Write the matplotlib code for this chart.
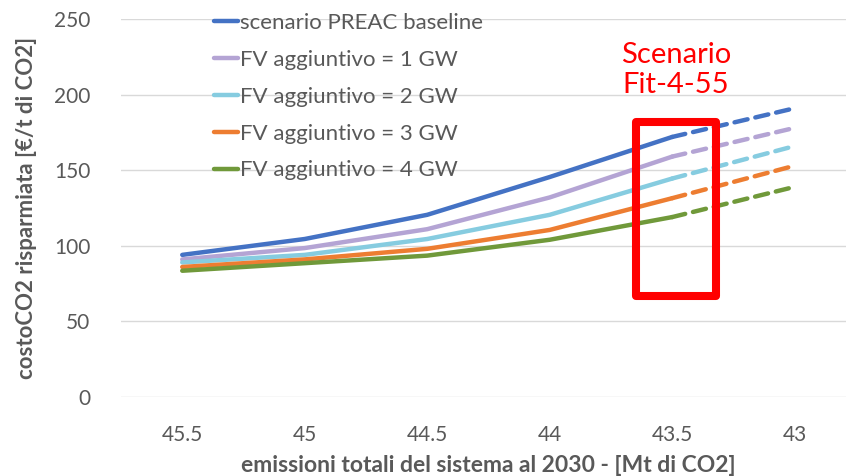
# -*- coding: utf-8 -*-
import numpy as np
import matplotlib
matplotlib.use("Agg")
import matplotlib.pyplot as plt
from matplotlib.patches import Rectangle

plt.rcParams['font.family'] = ['Lato', 'DejaVu Sans']

emissioni = ["45.5", "45", "44.5", "44", "43.5", "43"]
baseline = [94, 104.5, 120.5, 145.5, 172, 191]
fv_1gw = [91, 98.5, 111, 132, 159, 178]
fv_2gw = [89, 94, 104.5, 120.5, 144.5, 166]
fv_3gw = [86, 91, 98, 110.5, 131.5, 153]
fv_4gw = [83.5, 88.5, 93.5, 104, 119, 139]

serie = [
    ("scenario PREAC baseline", baseline, "#4472C4"),
    ("FV aggiuntivo = 1 GW", fv_1gw, "#B4A4D4"),
    ("FV aggiuntivo = 2 GW", fv_2gw, "#86CCE0"),
    ("FV aggiuntivo = 3 GW", fv_3gw, "#ED7D31"),
    ("FV aggiuntivo = 4 GW", fv_4gw, "#70993A"),
]

grigio = "#595959"

fig = plt.figure(figsize=(8.46, 4.76), dpi=100)
ax = fig.add_axes([121/846, 79/476, 735/846, 378/476])

x = np.arange(len(emissioni))
for nome, valori, colore in serie:
    # tratto continuo fino a 43.5, tratteggiato oltre
    ax.plot(x[:5], valori[:5], color=colore, lw=3.2, label=nome,
            solid_capstyle="round", solid_joinstyle="round")
    ax.plot(x[4:], valori[4:], color=colore, lw=3.2, dashes=(3, 1.8),
            dash_capstyle="round")

ax.set_xlim(-0.5, 5.5)
ax.set_ylim(0, 250)
ax.set_yticks(range(0, 251, 50))
ax.set_xticks(x)
ax.set_xticklabels(emissioni)
ax.grid(axis="y", color="#D9D9D9", lw=1)
ax.set_axisbelow(True)
for s in ax.spines.values():
    s.set_visible(False)
ax.tick_params(length=0, labelsize=15, labelcolor=grigio)
ax.tick_params(axis="y", pad=22)
ax.tick_params(axis="x", pad=20)

ax.set_ylabel("costoCO2 risparmiata [€/t di CO2]", fontsize=16,
              fontweight="bold", color=grigio, labelpad=12)
ax.set_xlabel("emissioni totali del sistema al 2030 - [Mt di CO2]",
              fontsize=16.5, fontweight="bold", color=grigio, labelpad=7)

leg = ax.legend(loc="upper left", bbox_to_anchor=(205/846, 1 - 4/476),
                bbox_transform=fig.transFigure, frameon=False, fontsize=16,
                handlelength=1.1, handletextpad=0.08, labelspacing=0.76,
                borderaxespad=0)
for t in leg.get_texts():
    t.set_color(grigio)

# riquadro scenario Fit-4-55
ax.add_patch(Rectangle((3.705, 67), 0.652, 115, fill=False, ec="#FF0000",
                       lw=5.8, joinstyle="round", zorder=5, clip_on=False))
ax.text(4.03, 216.5, "Scenario\nFit-4-55", color="#FF0000", fontsize=21,
        ha="center", va="center", linespacing=1.2)

plt.savefig("out.png", dpi=100)
